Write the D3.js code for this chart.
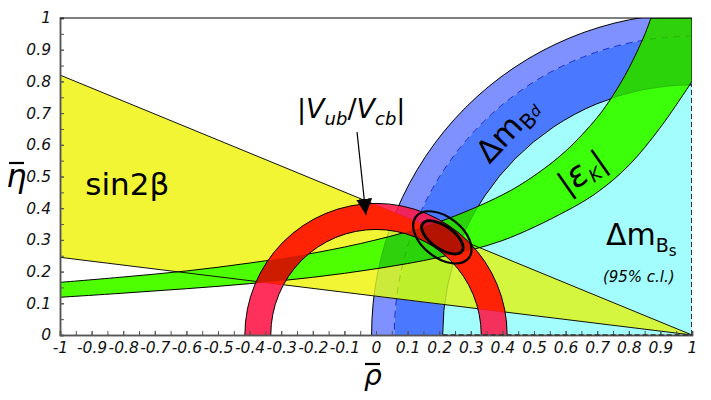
<!DOCTYPE html>
<html>
<head>
<meta charset="utf-8">
<script src="https://cdn.jsdelivr.net/npm/d3@7"></script>
<style>
  body { margin: 0; background: #fff; }
  svg { display: block; }
  .axis path, .axis line { stroke: #555; }
  .axis text { font-family: "DejaVu Sans", sans-serif; font-style: italic; fill: #111; }
  .lbl { font-family: "DejaVu Sans", sans-serif; fill: #000; }
</style>
</head>
<body>
<svg id="chart"></svg>
<script>
// ---- data (rho, eta plane) ----
const xTicks = [-1, -0.9, -0.8, -0.7, -0.6, -0.5, -0.4, -0.3, -0.2, -0.1, 0, 0.1, 0.2, 0.3, 0.4, 0.5, 0.6, 0.7, 0.8, 0.9, 1];
const yTicks = [0, 0.1, 0.2, 0.3, 0.4, 0.5, 0.6, 0.7, 0.8, 0.9, 1];

// sin2beta wedge: apex and two edge ends on rho = -1
const sin2bWedge = [[1, 0], [-1, 0.82], [-1, 0.245]];

// |Vub/Vcb| ring around (0,0)
const vubCenter = [0, 0];
const vubRadii = [0.333, 0.415];

// Delta m_d ring around (1,0): inner, dashed middle, outer
const dmdCenter = [1, 0];
const dmdRadii = [0.789, 0.942, 1.014];

// Delta m_s disk around (1,0)
const dmsCenter = [1, 0];
const dmsRadius = 0.789;

// |eps_K| band edges
const epsUpperRho = [-1, -0.8, -0.6, -0.4, -0.2, 0, 0.2, 0.4, 0.5, 0.6, 0.7, 0.75, 0.8, 0.85, 0.87];
const epsUpperEta = [0.166, 0.183, 0.202, 0.227, 0.258, 0.300, 0.357, 0.442, 0.502, 0.580, 0.686, 0.756, 0.841, 0.947, 1.0];
const epsLowerRho = [-1, -0.8, -0.6, -0.4, -0.2, 0, 0.2, 0.4, 0.6, 0.7, 0.8, 0.9, 1.0];
const epsLowerEta = [0.119, 0.132, 0.146, 0.162, 0.182, 0.209, 0.245, 0.298, 0.39, 0.45, 0.535, 0.655, 0.80];

// fit contours (center, semi axes in rho units, tilt in degrees)
const fitCenter = [0.21, 0.308];
const fitInner = { rx: 0.076, ry: 0.036, tilt: 35 };
const fitOuter = { rx: 0.106, ry: 0.064, tilt: 38 };

const width = 711, height = 400;
const margin = { top: 18, right: 19, bottom: 65, left: 60 };

const svg = d3.select('#chart').attr('width', width).attr('height', height);

const x = d3.scaleLinear().domain([-1, 1]).range([margin.left, width - margin.right]);
const y = d3.scaleLinear().domain([0, 1]).range([height - margin.bottom, margin.top]);

const defs = svg.append('defs');
defs.append('clipPath').attr('id', 'frame')
  .append('rect')
  .attr('x', x(-1)).attr('y', y(1))
  .attr('width', x(1) - x(-1)).attr('height', y(0) - y(1));

// helpers
function rx(r) { return x(r) - x(0); }
function ry(r) { return y(0) - y(r); }
function circlePath(c, r) {
  const cx = x(c[0]), cy = y(c[1]), a = rx(r), b = ry(r);
  return `M${cx + a},${cy}A${a},${b} 0 1,0 ${cx - a},${cy}A${a},${b} 0 1,0 ${cx + a},${cy}Z`;
}
function ringPath(c, r1, r2) { return circlePath(c, r2) + circlePath(c, r1); }

const wedgePath = 'M' + sin2bWedge.map(p => [x(p[0]), y(p[1])].join(',')).join('L') + 'Z';

const edgeLine = d3.line().x(d => x(d[0])).y(d => y(d[1])).curve(d3.curveCatmullRom);
const epsUpper = epsUpperRho.map((r, i) => [r, epsUpperEta[i]]);
const epsLower = epsLowerRho.map((r, i) => [r, epsLowerEta[i]]).reverse();
const corner = [x.domain()[1], y.domain()[1]];
const epsPath = edgeLine(epsUpper) + `L${x(corner[0])},${y(corner[1])}` +
  edgeLine(epsLower).replace('M', 'L') + 'Z';

defs.append('clipPath').attr('id', 'wedge').append('path').attr('d', wedgePath);
defs.append('clipPath').attr('id', 'eps').append('path').attr('d', epsPath);

const plot = svg.append('g').attr('clip-path', 'url(#frame)');

// paints the Delta m_s disk and Delta m_d ring with the given colours
function drawMixing(g, cCyan, cLight, cDark, strokeCol) {
  g.append('path').attr('d', circlePath(dmsCenter, dmsRadius)).attr('fill', cCyan);
  g.append('path').attr('d', ringPath(dmdCenter, dmdRadii[1], dmdRadii[2]))
    .attr('fill', cLight).attr('fill-rule', 'evenodd');
  g.append('path').attr('d', ringPath(dmdCenter, dmdRadii[0], dmdRadii[1]))
    .attr('fill', cDark).attr('fill-rule', 'evenodd');
  [dmdRadii[0], dmdRadii[2]].forEach(r => {
    g.append('path').attr('d', circlePath(dmdCenter, r))
      .attr('fill', 'none').attr('stroke', strokeCol).attr('stroke-width', 1);
  });
  g.append('path').attr('d', circlePath(dmdCenter, dmdRadii[1]))
    .attr('fill', 'none').attr('stroke', strokeCol === '#000' ? '#1a2ad0' : strokeCol)
    .attr('stroke-width', 1).attr('stroke-dasharray', '7,5');
}

drawMixing(plot.append('g'), '#a3fdfd', '#7f90ff', '#4a78ff', '#000');

// sin2beta wedge
plot.append('path').attr('d', wedgePath).attr('fill', '#f2f533');
drawMixing(plot.append('g').attr('clip-path', 'url(#wedge)'),
  '#d5f63e', '#cbea3a', '#bdef2a', 'rgba(0,0,0,0.18)');

// eps_K band
plot.append('path').attr('d', epsPath).attr('fill', '#4dff00');
drawMixing(plot.append('g').attr('clip-path', 'url(#eps)'),
  '#3cff0a', '#2fd00c', '#2bd40a', 'rgba(0,0,0,0.18)');
plot.append('path').attr('d', epsPath)
  .attr('fill', 'none').attr('stroke', '#000').attr('stroke-width', 1);

// wedge edges
plot.append('path').attr('d', wedgePath)
  .attr('fill', 'none').attr('stroke', '#111').attr('stroke-width', 1);

// Vub ring: pink over white / blue, orange-red over the wedge, dark red over eps_K
const vubRing = ringPath(vubCenter, vubRadii[0], vubRadii[1]);
plot.append('path').attr('d', vubRing)
  .attr('fill', 'rgb(255,20,70)').attr('fill-opacity', 0.88).attr('fill-rule', 'evenodd');
plot.append('g').attr('clip-path', 'url(#wedge)')
  .append('path').attr('d', vubRing)
  .attr('fill', 'rgb(255,34,0)').attr('fill-opacity', 0.9).attr('fill-rule', 'evenodd');
plot.append('g').attr('clip-path', 'url(#eps)')
  .append('path').attr('d', vubRing)
  .attr('fill', 'rgb(200,28,0)').attr('fill-opacity', 0.9).attr('fill-rule', 'evenodd');
plot.append('path').attr('d', vubRing)
  .attr('fill', 'none').attr('stroke', '#000').attr('stroke-width', 1);

// Delta m_s dashed borders on the frame
plot.append('line')
  .attr('x1', x(1)).attr('x2', x(1)).attr('y1', y(0)).attr('y2', y(dmsRadius))
  .attr('stroke', '#333').attr('stroke-width', 2).attr('stroke-dasharray', '5,3');

// fit contours
const fit = plot.append('g')
  .attr('transform', `translate(${x(fitCenter[0])},${y(fitCenter[1])})`);
fit.append('ellipse')
  .attr('rx', rx(fitOuter.rx)).attr('ry', ry(fitOuter.ry))
  .attr('transform', `rotate(${fitOuter.tilt})`)
  .attr('fill', 'none').attr('stroke', '#000').attr('stroke-width', 2.2);
fit.append('ellipse')
  .attr('rx', rx(fitInner.rx)).attr('ry', ry(fitInner.ry))
  .attr('transform', `rotate(${fitInner.tilt})`)
  .attr('fill', 'rgba(120,0,0,0.3)').attr('stroke', '#000').attr('stroke-width', 2.8);

// ---- axes ----
const minorX = d3.range(-1, 1.001, 0.05);
const minorY = d3.range(0, 1.001, 0.05);

svg.append('g').attr('class', 'axis')
  .attr('transform', `translate(0,${y(0)})`)
  .call(d3.axisBottom(x).tickValues(minorX).tickSize(-4).tickFormat(''));
svg.append('g').attr('class', 'axis')
  .attr('transform', `translate(0,${y(0)})`)
  .call(d3.axisBottom(x).tickValues(xTicks).tickSize(-4).tickPadding(7).tickFormat(d => String(d)))
  .call(g => g.selectAll('text').attr('font-size', 15.5));
svg.append('g').attr('class', 'axis')
  .attr('transform', `translate(${x(-1)},0)`)
  .call(d3.axisLeft(y).tickValues(minorY).tickSize(-4).tickFormat(''));
svg.append('g').attr('class', 'axis')
  .attr('transform', `translate(${x(-1)},0)`)
  .call(d3.axisLeft(y).tickValues(yTicks).tickSize(-4).tickPadding(9).tickFormat(d => String(d)))
  .call(g => g.selectAll('text').attr('font-size', 15.5));
svg.selectAll('.axis path.domain').attr('stroke-width', 1.5);

// Delta m_s dashed border along rho axis
svg.append('line')
  .attr('x1', x(dmsCenter[0] - dmsRadius)).attr('x2', x(1)).attr('y1', y(0)).attr('y2', y(0))
  .attr('stroke', '#333').attr('stroke-width', 1.5).attr('stroke-dasharray', '5,3');

// top border
svg.append('line')
  .attr('x1', x(-1)).attr('x2', x(1)).attr('y1', y(1)).attr('y2', y(1))
  .attr('stroke', '#000').attr('stroke-width', 1);

// ---- labels ----
const at = (r, e) => `translate(${x(r)},${y(e)})`;

// axis titles with overbars
svg.append('text').attr('class', 'lbl').attr('transform', at(-1.17, 0.468))
  .attr('font-size', 32).attr('font-style', 'italic').text('η');
svg.append('line').attr('x1', 9).attr('x2', 24).attr('y1', 163).attr('y2', 163)
  .attr('stroke', '#000').attr('stroke-width', 2.2);
svg.append('text').attr('class', 'lbl').attr('transform', at(-0.038, -0.158))
  .attr('font-size', 28).attr('font-style', 'italic').text('ρ');
svg.append('line').attr('x1', 365).attr('x2', 380).attr('y1', 364).attr('y2', 364)
  .attr('stroke', '#000').attr('stroke-width', 2.2);

svg.append('text').attr('class', 'lbl').attr('transform', at(-0.92, 0.442))
  .attr('font-size', 31).text('sin2β');

const vub = svg.append('text').attr('class', 'lbl').attr('transform', at(-0.25, 0.685))
  .attr('font-size', 27);
vub.append('tspan').text('|');
vub.append('tspan').attr('font-style', 'italic').text('V');
vub.append('tspan').attr('font-style', 'italic').attr('font-size', 18).attr('dy', 7).text('ub');
vub.append('tspan').attr('dy', -7).text('/');
vub.append('tspan').attr('font-style', 'italic').text('V');
vub.append('tspan').attr('font-style', 'italic').attr('font-size', 18).attr('dy', 7).text('cb');
vub.append('tspan').attr('dy', -7).text('|');

// arrow
const arrowFrom = [-0.06, 0.64], arrowTo = [-0.032, 0.379];
defs.append('marker').attr('id', 'head')
  .attr('viewBox', '0 0 10 10').attr('refX', 10).attr('refY', 5)
  .attr('markerWidth', 16).attr('markerHeight', 16).attr('orient', 'auto')
  .attr('markerUnits', 'userSpaceOnUse')
  .append('path').attr('d', 'M0,0L10,5L0,10Z').attr('fill', '#000');
svg.append('line')
  .attr('x1', x(arrowFrom[0])).attr('y1', y(arrowFrom[1]))
  .attr('x2', x(arrowTo[0])).attr('y2', y(arrowTo[1]))
  .attr('stroke', '#000').attr('stroke-width', 1.2).attr('marker-end', 'url(#head)');

const dmd = svg.append('text').attr('class', 'lbl')
  .attr('transform', at(0.415, 0.647) + ' rotate(-47)')
  .attr('text-anchor', 'middle').attr('dy', '0.35em').attr('font-size', 31);
dmd.append('tspan').text('Δm');
dmd.append('tspan').attr('font-size', 21).attr('dy', 6).text('B');
dmd.append('tspan').attr('font-size', 15).attr('font-style', 'italic').attr('dy', -4).text('d');

const eps = svg.append('text').attr('class', 'lbl')
  .attr('transform', at(0.652, 0.514) + ' rotate(-35)')
  .attr('text-anchor', 'middle').attr('dy', '0.35em').attr('font-size', 31);
eps.append('tspan').text('|');
eps.append('tspan').attr('font-style', 'italic').attr('font-size', 35).text('ε');
eps.append('tspan').attr('font-style', 'italic').attr('font-size', 18).attr('dy', 5).text('K');
eps.append('tspan').attr('dy', -5).text('|');

const dms = svg.append('text').attr('class', 'lbl').attr('transform', at(0.728, 0.284))
  .attr('font-size', 30);
dms.append('tspan').text('Δm');
dms.append('tspan').attr('font-size', 19).attr('dy', 7).text('B');
dms.append('tspan').attr('font-size', 15).attr('dy', 4).text('s');

svg.append('text').attr('class', 'lbl').attr('transform', at(0.718, 0.167))
  .attr('font-size', 15).attr('font-style', 'italic').text('(95% c.l.)');
</script>
</body>
</html>
